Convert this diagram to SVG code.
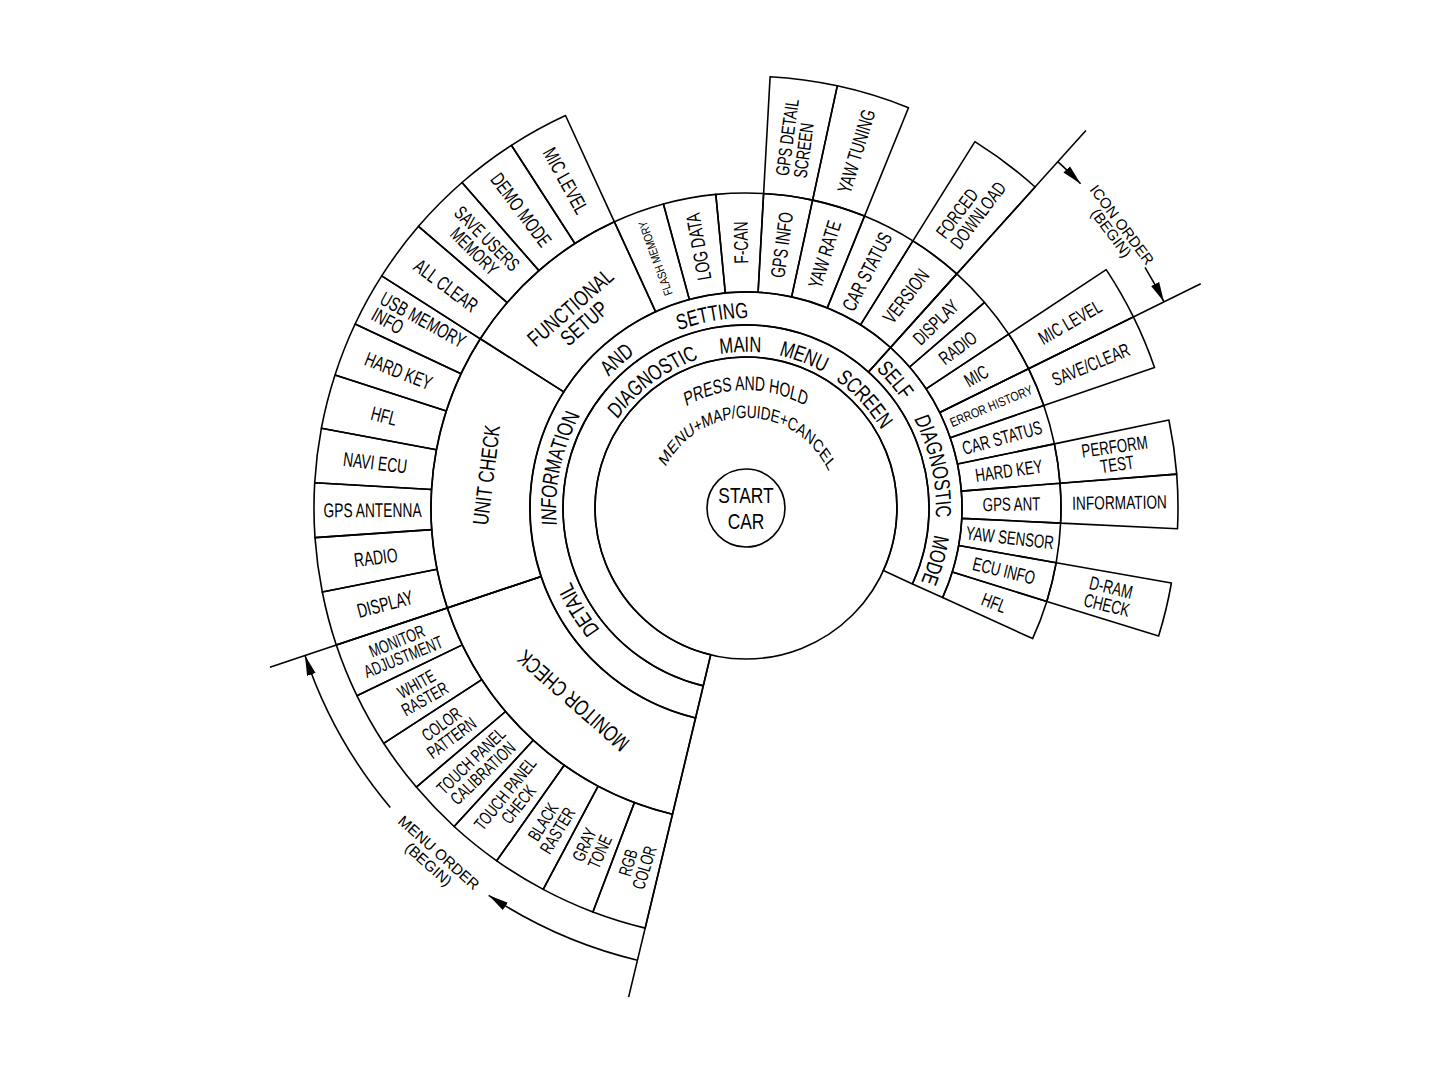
<svg xmlns="http://www.w3.org/2000/svg" width="1446" height="1078" viewBox="0 0 1446 1078">
<defs>
<style>
.c{fill:none;stroke:#000;stroke-width:1.6;stroke-linejoin:round}
.ln{fill:none;stroke:#000;stroke-width:1.6}
.t{font-family:"Liberation Sans",Arial,sans-serif;fill:#000;text-anchor:middle}
.s{text-anchor:start}
.f12{font-size:12px}.f13{font-size:13px}.f15{font-size:15px}.f18{font-size:18px}.f19{font-size:19px}.f20{font-size:20px}.f22{font-size:22px}
</style>
<marker id="ah" viewBox="0 0 20 10" refX="20" refY="5" markerWidth="20" markerHeight="10" markerUnits="userSpaceOnUse" orient="auto"><path d="M0 0.5 L20 5 L0 9.5 Z" fill="#000"/></marker>
<path id="pA" d="M-195.5 -53.4 A208 156 0 0 1 195.5 -53.4"/>
<path id="pB" d="M-238 -65 A253.33 190 0 0 1 238 -65"/>
<path id="pP" d="M-162.8 -30.5 A168.57 118 0 0 1 162.8 -30.5"/>
<path id="pM" d="M-118 -7.8 A118.42 90 0 0 1 118 -7.8"/>
</defs>
<rect width="1446" height="1078" fill="#fff"/>

<g id="start-car">
<circle class="c" cx="746" cy="508" r="39"/>
<text class="t f22" transform="translate(746 502.7) scale(0.79 1)">START</text>
<text class="t f22" transform="translate(746 529.3) scale(0.79 1)">CAR</text>
</g>

<g id="press-hold">
<circle class="c" cx="746" cy="508" r="151"/>
<g transform="translate(746 508)"><text class="t f20" transform="scale(0.7 1)"><textPath href="#pP" startOffset="50%">PRESS AND HOLD</textPath></text></g>
<g transform="translate(746 508) rotate(1.5)"><text class="t f18" transform="scale(0.76 1)"><textPath href="#pM" startOffset="50%">MENU+MAP/GUIDE+CANCEL</textPath></text></g>
</g>

<g id="main-menu">
<path class="c" d="M710.7 654.8 L703.3 685.9 A183 183 0 1 1 912.5 583.9 L883.4 570.6 A151 151 0 1 0 710.7 654.8 Z"/>
<g transform="translate(746 508) rotate(-36.5)"><text class="t f22" transform="scale(0.75 1)"><textPath href="#pA" startOffset="50%">DIAGNOSTIC</textPath></text></g>
<g transform="translate(746 508) rotate(-2)"><text class="t f22" transform="scale(0.75 1)"><textPath href="#pA" startOffset="50%">MAIN</textPath></text></g>
<g transform="translate(746 508) rotate(21)"><text class="t f22" transform="scale(0.75 1)"><textPath href="#pA" startOffset="50%">MENU</textPath></text></g>
<g transform="translate(746 508) rotate(47.5)"><text class="t f22" transform="scale(0.75 1)"><textPath href="#pA" startOffset="50%">SCREEN</textPath></text></g>
</g>

<g id="info-setting">
<path class="c" d="M703.3 685.9 L695.6 718.0 A216 216 0 1 1 890.5 347.5 L868.5 372.0 A183 183 0 1 0 703.3 685.9 Z"/>
<g transform="translate(746 508) rotate(238.7)"><text class="t f22" transform="scale(0.75 1)"><textPath href="#pB" startOffset="50%">DETAIL</textPath></text></g>
<g transform="translate(746 508) rotate(282)"><text class="t f22" transform="scale(0.75 1)"><textPath href="#pB" startOffset="50%">INFORMATION</textPath></text></g>
<g transform="translate(746 508) rotate(319)"><text class="t f22" transform="scale(0.75 1)"><textPath href="#pB" startOffset="50%">AND</textPath></text></g>
<g transform="translate(746 508) rotate(350)"><text class="t f22" transform="scale(0.75 1)"><textPath href="#pB" startOffset="50%">SETTING</textPath></text></g>
</g>

<g id="self-diag">
<path class="c" d="M868.5 372.0 L890.5 347.5 A216 216 0 0 1 942.6 597.6 L912.5 583.9 A183 183 0 0 0 868.5 372.0 Z"/>
<g transform="translate(746 508) rotate(49.4)"><text class="t f22" transform="scale(0.75 1)"><textPath href="#pB" startOffset="50%">SELF</textPath></text></g>
<g transform="translate(746 508) rotate(77.5)"><text class="t f22" transform="scale(0.75 1)"><textPath href="#pB" startOffset="50%">DIAGNOSTIC</textPath></text></g>
<g transform="translate(746 508) rotate(105.5)"><text class="t f22" transform="scale(0.75 1)"><textPath href="#pB" startOffset="50%">MODE</textPath></text></g>
</g>

<g id="monitor-check">
<path class="c" d="M695.6 718.0 L672.5 814.3 A315 315 0 0 1 447.3 607.9 L541.2 576.5 A216 216 0 0 0 695.6 718.0 Z"/>
<text class="t f22" transform="translate(573 701) rotate(-138.7) scale(0.75 1)" y="8">MONITOR CHECK</text>
</g>
<g id="unit-check">
<path class="c" d="M541.2 576.5 L447.3 607.9 A315 315 0 0 1 480.3 338.8 L563.8 391.9 A216 216 0 0 0 541.2 576.5 Z"/>
<text class="t f22" transform="translate(486 475) rotate(-83) scale(0.75 1)" y="8">UNIT CHECK</text>
</g>
<g id="functional-setup">
<path class="c" d="M563.8 391.9 L480.3 338.8 A315 315 0 0 1 614.4 221.8 L655.7 311.8 A216 216 0 0 0 563.8 391.9 Z"/>
<text class="t f22" transform="translate(577 315) rotate(-41) scale(0.75 1)"><tspan x="0" y="-2.5">FUNCTIONAL</tspan><tspan x="0" y="18.5">SETUP</tspan></text>
</g>

<!-- monitor outer items -->
<g id="rgb-color">
<path class="c" d="M672.5 814.3 L645.2 928.1 A432 432 0 0 1 592.9 912.0 L634.4 802.6 A315 315 0 0 0 672.5 814.3 Z"/>
<text class="t f18" transform="translate(636 865) rotate(-72.9) scale(0.69 1)"><tspan x="0" y="-2">RGB</tspan><tspan x="0" y="15">COLOR</tspan></text>
</g>
<g id="gray-tone">
<path class="c" d="M634.4 802.6 L592.9 912.0 A432 432 0 0 1 543.2 889.4 L598.1 786.1 A315 315 0 0 0 634.4 802.6 Z"/>
<text class="t f18" transform="translate(591.8 848.2) rotate(-65.6) scale(0.69 1)"><tspan x="0" y="-2">GRAY</tspan><tspan x="0" y="15">TONE</tspan></text>
</g>
<g id="black-raster">
<path class="c" d="M598.1 786.1 L543.2 889.4 A432 432 0 0 1 496.7 860.8 L564.2 765.2 A315 315 0 0 0 598.1 786.1 Z"/>
<text class="t f18" transform="translate(550.1 826) rotate(-58.4) scale(0.69 1)"><tspan x="0" y="-2">BLACK</tspan><tspan x="0" y="15">RASTER</tspan></text>
</g>
<g id="touch-panel-check">
<path class="c" d="M564.2 765.2 L496.7 860.8 A432 432 0 0 1 454.1 826.5 L533.2 740.2 A315 315 0 0 0 564.2 765.2 Z"/>
<text class="t f18" transform="translate(511.6 798.8) rotate(-51.1) scale(0.69 1)"><tspan x="0" y="-2">TOUCH PANEL</tspan><tspan x="0" y="15">CHECK</tspan></text>
</g>
<g id="touch-panel-calibration">
<path class="c" d="M533.2 740.2 L454.1 826.5 A432 432 0 0 1 416.3 787.1 L505.6 711.5 A315 315 0 0 0 533.2 740.2 Z"/>
<text class="t f18" transform="translate(476.7 766.8) rotate(-43.9) scale(0.69 1)"><tspan x="0" y="-2">TOUCH PANEL</tspan><tspan x="0" y="15">CALIBRATION</tspan></text>
</g>
<g id="color-pattern">
<path class="c" d="M505.6 711.5 L416.3 787.1 A432 432 0 0 1 383.7 743.3 L481.8 679.6 A315 315 0 0 0 505.6 711.5 Z"/>
<text class="t f18" transform="translate(446.3 730.8) rotate(-36.6) scale(0.69 1)"><tspan x="0" y="-2">COLOR</tspan><tspan x="0" y="15">PATTERN</tspan></text>
</g>
<g id="white-raster">
<path class="c" d="M481.8 679.6 L383.7 743.3 A432 432 0 0 1 356.9 695.7 L462.3 644.9 A315 315 0 0 0 481.8 679.6 Z"/>
<text class="t f18" transform="translate(420.5 691.2) rotate(-29.4) scale(0.69 1)"><tspan x="0" y="-2">WHITE</tspan><tspan x="0" y="15">RASTER</tspan></text>
</g>
<g id="monitor-adjustment">
<path class="c" d="M462.3 644.9 L356.9 695.7 A432 432 0 0 1 336.3 645.1 L447.3 607.9 A315 315 0 0 0 462.3 644.9 Z"/>
<text class="t f18" transform="translate(400 648.7) rotate(-22.1) scale(0.69 1)"><tspan x="0" y="-2">MONITOR</tspan><tspan x="0" y="15">ADJUSTMENT</tspan></text>
</g>

<!-- unit check outer items -->
<g id="u-display">
<path class="c" d="M447.3 607.9 L336.3 645.1 A432 432 0 0 1 322.3 592.0 L437.0 569.2 A315 315 0 0 0 447.3 607.9 Z"/>
<text class="t f20" transform="translate(385 603.8) rotate(-14.86) scale(0.69 1)" y="7.2">DISPLAY</text>
</g>
<g id="u-radio">
<path class="c" d="M437.0 569.2 L322.3 592.0 A432 432 0 0 1 315.0 537.6 L431.7 529.6 A315 315 0 0 0 437.0 569.2 Z"/>
<text class="t f20" transform="translate(375.7 557.2) rotate(-7.57) scale(0.69 1)" y="7.2">RADIO</text>
</g>
<g id="u-gps-antenna">
<path class="c" d="M431.7 529.6 L315.0 537.6 A432 432 0 0 1 314.7 482.7 L431.5 489.5 A315 315 0 0 0 431.7 529.6 Z"/>
<text class="t f20" transform="translate(372.5 509.9) rotate(-0.29) scale(0.69 1)" y="7.2">GPS ANTENNA</text>
</g>
<g id="u-navi-ecu">
<path class="c" d="M431.5 489.5 L314.7 482.7 A432 432 0 0 1 321.4 428.2 L436.4 449.8 A315 315 0 0 0 431.5 489.5 Z"/>
<text class="t f20" transform="translate(375.3 462.5) rotate(7) scale(0.69 1)" y="7.2">NAVI ECU</text>
</g>
<g id="u-hfl">
<path class="c" d="M436.4 449.8 L321.4 428.2 A432 432 0 0 1 335.0 375.0 L446.3 411.0 A315 315 0 0 0 436.4 449.8 Z"/>
<text class="t f20" transform="translate(384.1 415.8) rotate(14.29) scale(0.69 1)" y="7.2">HFL</text>
</g>
<g id="u-hard-key">
<path class="c" d="M446.3 411.0 L335.0 375.0 A432 432 0 0 1 355.1 324.0 L461.0 373.8 A315 315 0 0 0 446.3 411.0 Z"/>
<text class="t f20" transform="translate(398.6 370.7) rotate(21.57) scale(0.69 1)" y="7.2">HARD KEY</text>
</g>
<g id="u-usb-memory">
<path class="c" d="M461.0 373.8 L355.1 324.0 A432 432 0 0 1 381.7 275.9 L480.3 338.8 A315 315 0 0 0 461.0 373.8 Z"/>
<text class="t s f20" transform="translate(418.9 327.7) rotate(28.86) scale(0.69 1)"><tspan x="-68.3" y="-2">USB MEMORY</tspan><tspan x="-68.3" y="16">INFO</tspan></text>
</g>

<!-- functional setup outer items -->
<g id="f-all-clear">
<path class="c" d="M480.3 338.8 L381.7 275.9 A432 432 0 0 1 418.5 226.3 L507.2 302.6 A315 315 0 0 0 480.3 338.8 Z"/>
<text class="t f20" transform="translate(446.2 285.3) rotate(36.6) scale(0.69 1)" y="7.2">ALL CLEAR</text>
</g>
<g id="f-save-users">
<path class="c" d="M507.2 302.6 L418.5 226.3 A432 432 0 0 1 462.0 182.5 L538.9 270.6 A315 315 0 0 0 507.2 302.6 Z"/>
<text class="t f19" transform="translate(480.9 244.8) rotate(44.8) scale(0.69 1)"><tspan x="0" y="-2.2">SAVE USERS</tspan><tspan x="0" y="15.8">MEMORY</tspan></text>
</g>
<g id="f-demo-mode">
<path class="c" d="M538.9 270.6 L462.0 182.5 A432 432 0 0 1 511.4 145.3 L574.9 243.5 A315 315 0 0 0 538.9 270.6 Z"/>
<text class="t f20" transform="translate(521.2 209.7) rotate(53) scale(0.69 1)" y="7.2">DEMO MODE</text>
</g>
<g id="f-mic-level">
<path class="c" d="M574.9 243.5 L511.4 145.3 A432 432 0 0 1 565.5 115.5 L614.4 221.8 A315 315 0 0 0 574.9 243.5 Z"/>
<text class="t f20" transform="translate(566 180.7) rotate(61.2) scale(0.69 1)" y="7.2">MIC LEVEL</text>
</g>

<!-- information and setting items -->
<g id="s-flash-memory">
<path class="c" d="M655.7 311.8 L614.4 221.8 A315 315 0 0 1 663.4 204.0 L689.4 299.6 A216 216 0 0 0 655.7 311.8 Z"/>
<text class="t f12" transform="translate(655.4 258.4) rotate(-109.95) scale(0.82 1)" y="4.3">FLASH MEMORY</text>
</g>
<g id="s-log-data">
<path class="c" d="M689.4 299.6 L663.4 204.0 A315 315 0 0 1 715.8 194.4 L725.3 293.0 A216 216 0 0 0 689.4 299.6 Z"/>
<text class="t f20" transform="translate(698.3 246.8) rotate(-100.35) scale(0.69 1)" y="7.2">LOG DATA</text>
</g>
<g id="s-f-can">
<path class="c" d="M725.3 293.0 L715.8 194.4 A315 315 0 0 1 763.6 193.5 L758.1 292.3 A216 216 0 0 0 725.3 293.0 Z"/>
<text class="t f20" transform="translate(740.7 242.6) rotate(-91.15) scale(0.69 1)" y="7.2">F-CAN</text>
</g>
<g id="s-gps-info">
<path class="c" d="M758.1 292.3 L763.6 193.5 A315 315 0 0 1 812.6 200.1 L791.6 296.9 A216 216 0 0 0 758.1 292.3 Z"/>
<text class="t f20" transform="translate(781.6 244.9) rotate(-82.3) scale(0.69 1)" y="7.2">GPS INFO</text>
</g>
<g id="s-yaw-rate">
<path class="c" d="M791.6 296.9 L812.6 200.1 A315 315 0 0 1 864.5 216.1 L827.3 307.9 A216 216 0 0 0 791.6 296.9 Z"/>
<text class="t f20" transform="translate(824.3 254.3) rotate(-72.85) scale(0.69 1)" y="7.2">YAW RATE</text>
</g>
<g id="s-car-status">
<path class="c" d="M827.3 307.9 L864.5 216.1 A315 315 0 0 1 912.9 240.9 L860.5 324.8 A216 216 0 0 0 827.3 307.9 Z"/>
<text class="t f20" transform="translate(866.8 271.5) rotate(-62.95) scale(0.69 1)" y="7.2">CAR STATUS</text>
</g>
<g id="s-version">
<path class="c" d="M860.5 324.8 L912.9 240.9 A315 315 0 0 1 956.8 273.9 L890.5 347.5 A216 216 0 0 0 860.5 324.8 Z"/>
<text class="t f20" transform="translate(905.8 296) rotate(-53) scale(0.69 1)" y="7.2">VERSION</text>
</g>
<g id="s-gps-detail">
<path class="c" d="M763.6 193.5 L770.1 76.7 A432 432 0 0 1 837.3 85.8 L812.6 200.1 A315 315 0 0 0 763.6 193.5 Z"/>
<text class="t s f19" transform="translate(796 137.9) rotate(-82.3) scale(0.7 1)"><tspan x="-56" y="-2.2">GPS DETAIL</tspan><tspan x="-56" y="15.8">SCREEN</tspan></text>
</g>
<g id="s-yaw-tuning">
<path class="c" d="M812.6 200.1 L837.3 85.8 A432 432 0 0 1 908.5 107.7 L864.5 216.1 A315 315 0 0 0 812.6 200.1 Z"/>
<text class="t f20" transform="translate(856.1 151.1) rotate(-72.85) scale(0.69 1)" y="7.2">YAW TUNING</text>
</g>
<g id="s-forced-download">
<path class="c" d="M912.9 240.9 L974.9 141.6 A432 432 0 0 1 1035.1 187.0 L956.8 273.9 A315 315 0 0 0 912.9 240.9 Z"/>
<text class="t s f19" transform="translate(970.8 209.7) rotate(-53) scale(0.7 1)"><tspan x="-56" y="-2.2">FORCED</tspan><tspan x="-56" y="15.8">DOWNLOAD</tspan></text>
</g>

<!-- self diagnostic items -->
<g id="d-display">
<path class="c" d="M890.5 347.5 L956.8 273.9 A315 315 0 0 1 984.6 302.4 L909.6 367.0 A216 216 0 0 0 890.5 347.5 Z"/>
<text class="t f19" transform="translate(935.7 322.2) rotate(-44.4) scale(0.7 1)" y="6.8">DISPLAY</text>
</g>
<g id="d-radio">
<path class="c" d="M909.6 367.0 L984.6 302.4 A315 315 0 0 1 1008.7 334.1 L926.1 388.8 A216 216 0 0 0 909.6 367.0 Z"/>
<text class="t f19" transform="translate(957.7 347.7) rotate(-37.1) scale(0.7 1)" y="6.8">RADIO</text>
</g>
<g id="d-mic">
<path class="c" d="M926.1 388.8 L1008.7 334.1 A315 315 0 0 1 1028.5 368.7 L939.7 412.5 A216 216 0 0 0 926.1 388.8 Z"/>
<text class="t f19" transform="translate(976.2 375.8) rotate(-29.9) scale(0.7 1)" y="6.8">MIC</text>
</g>
<g id="d-error-history">
<path class="c" d="M939.7 412.5 L1028.5 368.7 A315 315 0 0 1 1043.8 405.4 L950.2 437.7 A216 216 0 0 0 939.7 412.5 Z"/>
<text class="t f13" transform="translate(991.1 405.9) rotate(-22.6) scale(0.82 1)" y="4.7">ERROR HISTORY</text>
</g>
<g id="d-car-status">
<path class="c" d="M950.2 437.7 L1043.8 405.4 A315 315 0 0 1 1054.4 443.9 L957.5 464.0 A216 216 0 0 0 950.2 437.7 Z"/>
<text class="t f19" transform="translate(1002 437.6) rotate(-15.4) scale(0.7 1)" y="6.8">CAR STATUS</text>
</g>
<g id="d-hard-key">
<path class="c" d="M957.5 464.0 L1054.4 443.9 A315 315 0 0 1 1060.0 483.3 L961.3 491.1 A216 216 0 0 0 957.5 464.0 Z"/>
<text class="t f19" transform="translate(1008.8 470.5) rotate(-8.1) scale(0.7 1)" y="6.8">HARD KEY</text>
</g>
<g id="d-gps-ant">
<path class="c" d="M961.3 491.1 L1060.0 483.3 A315 315 0 0 1 1060.6 523.1 L961.8 518.4 A216 216 0 0 0 961.3 491.1 Z"/>
<text class="t f19" transform="translate(1011.5 503.9) rotate(-0.9) scale(0.7 1)" y="6.8">GPS ANT</text>
</g>
<g id="d-yaw-sensor">
<path class="c" d="M961.8 518.4 L1060.6 523.1 A315 315 0 0 1 1056.2 562.7 L958.7 545.5 A216 216 0 0 0 961.8 518.4 Z"/>
<text class="t f19" transform="translate(1009.9 537.5) rotate(6.4) scale(0.7 1)" y="6.8">YAW SENSOR</text>
</g>
<g id="d-ecu-info">
<path class="c" d="M958.7 545.5 L1056.2 562.7 A315 315 0 0 1 1046.8 601.4 L952.3 572.1 A216 216 0 0 0 958.7 545.5 Z"/>
<text class="t f19" transform="translate(1004 570.5) rotate(13.6) scale(0.7 1)" y="6.8">ECU INFO</text>
</g>
<g id="d-hfl">
<path class="c" d="M952.3 572.1 L1046.8 601.4 A315 315 0 0 1 1032.6 638.6 L942.6 597.6 A216 216 0 0 0 952.3 572.1 Z"/>
<text class="t f19" transform="translate(994.1 602.6) rotate(20.9) scale(0.7 1)" y="6.8">HFL</text>
</g>
<g id="d-mic-level">
<path class="c" d="M1008.7 334.1 L1106.2 269.6 A432 432 0 0 1 1133.4 316.9 L1028.5 368.7 A315 315 0 0 0 1008.7 334.1 Z"/>
<text class="t f19" transform="translate(1069.9 322) rotate(-29.9) scale(0.7 1)" y="6.8">MIC LEVEL</text>
</g>
<g id="d-save-clear">
<path class="c" d="M1028.5 368.7 L1133.4 316.9 A432 432 0 0 1 1154.5 367.4 L1043.8 405.4 A315 315 0 0 0 1028.5 368.7 Z"/>
<text class="t f19" transform="translate(1090.8 364.3) rotate(-22.6) scale(0.7 1)" y="6.8">SAVE/CLEAR</text>
</g>
<g id="d-perform-test">
<path class="c" d="M1054.4 443.9 L1168.9 420.0 A432 432 0 0 1 1176.7 474.1 L1060.0 483.3 A315 315 0 0 0 1054.4 443.9 Z"/>
<text class="t f19" transform="translate(1115.8 455.2) rotate(-8.1) scale(0.7 1)"><tspan x="0" y="-2.2">PERFORM</tspan><tspan x="0" y="15.8">TEST</tspan></text>
</g>
<g id="d-information">
<path class="c" d="M1060.0 483.3 L1176.7 474.1 A432 432 0 0 1 1177.5 528.7 L1060.6 523.1 A315 315 0 0 0 1060.0 483.3 Z"/>
<text class="t f19" transform="translate(1119.5 502.3) rotate(-0.9) scale(0.72 1)" y="6.8">INFORMATION</text>
</g>
<g id="d-dram-check">
<path class="c" d="M1056.2 562.7 L1171.4 583.0 A432 432 0 0 1 1158.6 636.1 L1046.8 601.4 A315 315 0 0 0 1056.2 562.7 Z"/>
<text class="t f19" transform="translate(1109 596) rotate(13.6) scale(0.7 1)"><tspan x="0" y="-2.2">D-RAM</tspan><tspan x="0" y="15.8">CHECK</tspan></text>
</g>

<g id="connectors">
<path class="ln" d="M541.2 576.5 L269.9 667.3 M710.7 654.8 L628.6 997.1 M868.5 372.0 L1085.9 130.5 M939.7 412.5 L1200.7 283.8"/>
<path class="ln" marker-end="url(#ah)" d="M637.5 960.2 A465 465 0 0 1 488.7 895.3"/>
<path class="ln" marker-end="url(#ah)" d="M390.3 807.5 A465 465 0 0 1 305.0 655.5"/>
<path class="ln" marker-end="url(#ah)" d="M1057.8 161.7 A466 466 0 0 1 1080.6 183.7"/>
<path class="ln" marker-end="url(#ah)" d="M1145.0 267.3 A466 466 0 0 1 1164.0 301.9"/>
<text class="t f15" transform="translate(433.7 858.5) rotate(41.7)"><tspan x="0" y="-2.5">MENU ORDER</tspan><tspan x="0" y="13">(BEGIN)</tspan></text>
<text class="t f15" transform="translate(1116.6 228.8) rotate(53)"><tspan x="0" y="-1.5">ICON ORDER</tspan><tspan x="0" y="12">(BEGIN)</tspan></text>
</g>
</svg>
